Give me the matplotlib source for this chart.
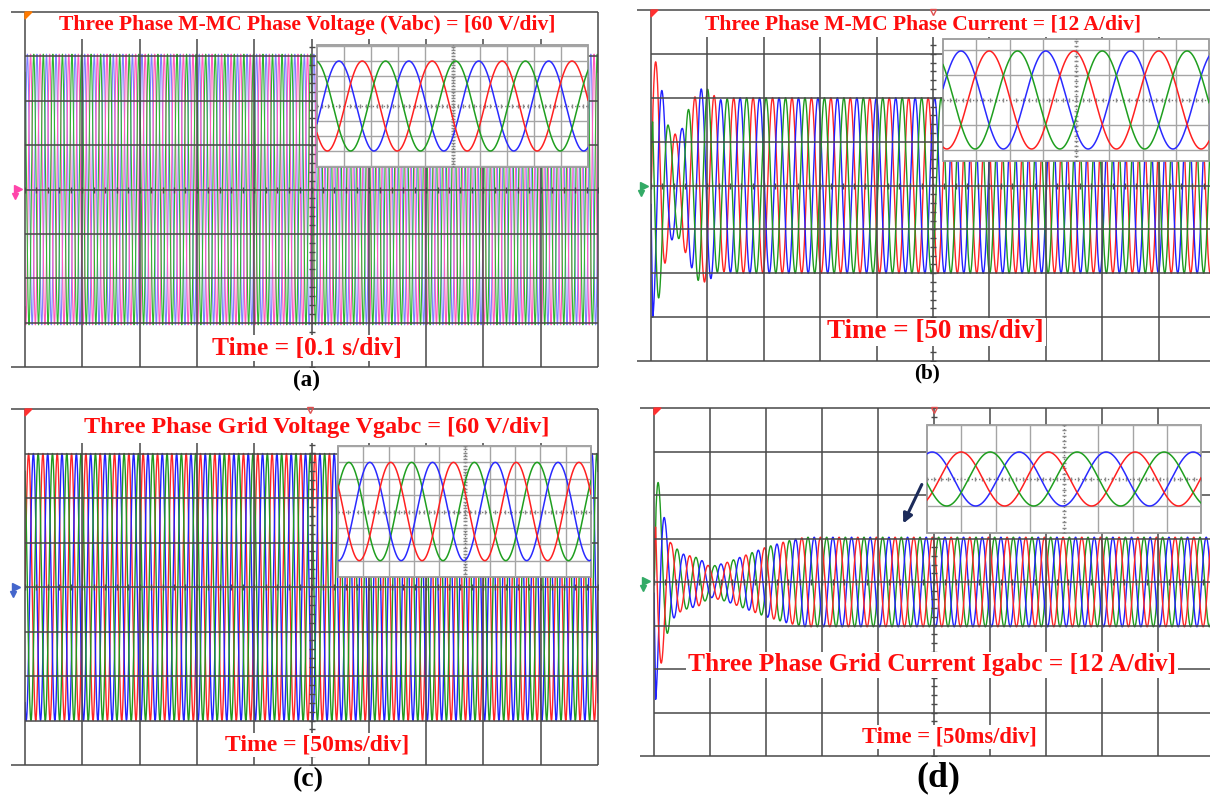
import numpy as np
import matplotlib
matplotlib.use("Agg")
import matplotlib.pyplot as plt
from matplotlib.patches import Rectangle, Polygon

W, H = 1210, 796

# ---------------- data ----------------
titles = ["Three Phase M-MC Phase Voltage (Vabc) = [60 V/div]",
          "Three Phase M-MC Phase Current = [12 A/div]",
          "Three Phase Grid Voltage Vgabc = [60 V/div]",
          "Three Phase Grid Current Igabc = [12 A/div]"]
time_labels = ["Time = [0.1 s/div]", "Time = [50 ms/div]",
               "Time = [50ms/div]", "Time = [50ms/div]"]
panel_letters = ["(a)", "(b)", "(c)", "(d)"]

# envelope of main traces: time (div) and amplitude (div)
env_a_t = [0.0, 10.0]
env_a_amp = [3.05, 3.05]
env_b_t = [0.0, 0.03, 0.12, 0.22, 0.32, 0.45, 0.55, 0.65, 0.85, 1.0, 1.2, 1.5, 10.0]
env_b_amp = [0.5, 3.0, 2.7, 2.0, 1.3, 1.15, 1.3, 1.7, 2.2, 2.2, 1.95, 2.0, 2.0]
env_c_t = [0.0, 10.0]
env_c_amp = [3.0, 3.0]
env_d_t = [0.0, 0.03, 0.1, 0.2, 0.3, 0.5, 0.8, 1.0, 1.3, 1.6, 2.0, 2.4, 2.7, 10.0]
env_d_amp = [0.3, 2.7, 2.1, 1.4, 0.9, 0.65, 0.55, 0.35, 0.45, 0.6, 0.8, 0.95, 1.03, 1.03]
cycles_per_div = [6.0, 2.9, 4.0, 3.0]

main_colors_a = ["#8080ff", "#ff5cbc", "#2fb52f"]
main_colors_rgb = ["#2020ff", "#ff2525", "#1f9a1f"]

# zoomed insets: amplitude (div), period (div), first peak (div), colour order
inset_amp = [3.0, 1.96, 3.0, 1.0]
inset_period = [2.58, 2.55, 2.48, 2.54]
inset_first_peak = [0.81, 0.54, 0.43, 0.15]
inset_colors = [["#2a2aff", "#ff2020", "#1f9f1f"],
                ["#2a2aff", "#ff2020", "#1f9f1f"],
                ["#1f9f1f", "#2a2aff", "#ff2020"],
                ["#2a2aff", "#ff2020", "#1f9f1f"]]

# ---------------- figure ----------------
fig = plt.figure(figsize=(W / 100, H / 100), dpi=100)
GRID = "#4a4a4a"


def px_axes(L, T, R, B, xlim, ylim):
    ax = fig.add_axes([L / W, 1 - B / H, (R - L) / W, (B - T) / H])
    ax.set_xlim(*xlim)
    ax.set_ylim(*ylim)
    ax.axis("off")
    return ax


def draw_panel(box, band_px, env_t, env_amp, cyc, colors, lw):
    L, T, R, B = box
    ax = px_axes(L, T, R, B, (0, 10), (-4, 4))
    pxx = (R - L) / 10.0
    pxy = (B - T) / 8.0
    t = np.linspace(0, 10, 40000)
    env = np.interp(t, env_t, env_amp)
    for k, c in enumerate(colors):
        y = env * np.sin(2 * np.pi * cyc * t - 2 * np.pi * k / 3.0)
        ax.plot(t, y, color=c, lw=lw, zorder=2)
    ext = 14.0 / pxx
    for j in range(9):
        yv = -4 + j
        x0 = -ext if j in (0, 8) else 0
        ax.plot([x0, 10], [yv, yv], color=GRID, lw=1.4, alpha=0.8, zorder=3,
                clip_on=False, solid_capstyle="butt")
    ytop = 4 - (band_px - T) / pxy if band_px else 4
    for i in range(11):
        top = 4 if i in (0, 10) else ytop
        ax.plot([i, i], [-4, top], color=GRID, lw=1.4, alpha=0.8, zorder=3,
                clip_on=False, solid_capstyle="butt")
    tk = np.arange(-4, ytop + 0.001, 0.2)
    ax.plot(np.full_like(tk, 5.0), tk, ls="none", marker="_", ms=5, mew=1,
            color=GRID, zorder=3)
    tkx = np.arange(0, 10.001, 0.2)
    ax.plot(tkx, np.zeros_like(tkx), ls="none", marker="|", ms=5, mew=1,
            color=GRID, zorder=3)
    return ax


def draw_inset(box, nx, yh, ny_lines, amp, period, peak, colors):
    L, T, R, B = box
    ax = px_axes(L, T, R, B, (0, nx), (-yh, yh))
    ax.add_patch(Rectangle((0, -yh), nx, 2 * yh, fc="white", ec="#9a9a9a",
                           lw=1.3, zorder=0, clip_on=False))
    for i in range(1, nx):
        if i == nx // 2:
            continue
        ax.plot([i, i], [-yh, yh], color="#a5a5a5", lw=1.0, zorder=1)
    for j in range(-ny_lines, ny_lines + 1):
        if j == 0:
            continue
        ax.plot([0, nx], [j, j], color="#a5a5a5", lw=1.0, zorder=1)
    ax.plot([nx / 2, nx / 2], [-yh, yh], color="#777777", lw=1.0, ls=":", zorder=1)
    ax.plot([0, nx], [0, 0], color="#777777", lw=1.0, ls=":", zorder=1)
    tk = np.arange(-yh, yh + 0.001, 0.2)
    ax.plot(np.full_like(tk, nx / 2), tk, ls="none", marker="_", ms=3,
            color="#888888", zorder=1)
    tkx = np.arange(0, nx + 0.001, 0.2)
    ax.plot(tkx, np.zeros_like(tkx), ls="none", marker="|", ms=3,
            color="#888888", zorder=1)
    x = np.linspace(0, nx, 3000)
    for k, c in enumerate(colors):
        y = amp * np.cos(2 * np.pi * (x - peak - k * period / 3.0) / period)
        ax.plot(x, y, color=c, lw=1.1, zorder=2)
    return ax


# panels (pixel boxes: L, T, R, B)
draw_panel((25, 12, 598, 367), 39, env_a_t, env_a_amp, cycles_per_div[0],
           main_colors_a, 0.8)
draw_inset((317, 45, 588, 167), 10, 4.07, 4, inset_amp[0], inset_period[0],
           inset_first_peak[0], inset_colors[0])

draw_panel((651, 10, 1215, 361), 37, env_b_t, env_b_amp, cycles_per_div[1],
           [main_colors_rgb[1], main_colors_rgb[0], main_colors_rgb[2]], 1.0)
draw_inset((943, 39, 1209, 161), 8, 2.44, 2, inset_amp[1], inset_period[1],
           inset_first_peak[1], inset_colors[1])

draw_panel((25, 409, 598, 765), 443, env_c_t, env_c_amp, cycles_per_div[2],
           [main_colors_rgb[1], main_colors_rgb[0], main_colors_rgb[2]], 1.0)
draw_inset((338, 446, 591, 577), 10, 4.0, 4, inset_amp[2], inset_period[2],
           inset_first_peak[2], inset_colors[2])

draw_panel((654, 408, 1214, 756), None, env_d_t, env_d_amp, cycles_per_div[3],
           [main_colors_rgb[2], main_colors_rgb[0], main_colors_rgb[1]], 1.0)
draw_inset((927, 425, 1201, 533), 8, 2.0, 2, inset_amp[3], inset_period[3],
           inset_first_peak[3], inset_colors[3])

# overlay in pixel coordinates
ov = fig.add_axes([0, 0, 1, 1])
ov.set_xlim(0, W)
ov.set_ylim(H, 0)
ov.axis("off")
ov.set_zorder(10)
ov.patch.set_visible(False)

renderer = fig.canvas.get_renderer()


def fit_text(x, y, s, width, color, box=False):
    kw = {}
    if box:
        kw["bbox"] = dict(facecolor="white", edgecolor="none", pad=1.5)
    t = ov.text(x, y, s, ha="center", va="center", fontsize=20, color=color,
                family="Liberation Serif", weight="bold", **kw)
    w = t.get_window_extent(renderer).width
    t.set_fontsize(20 * width / w)
    return t


RED = "#ff0d0d"
title_pos = [(307, 25, 498), (923.5, 25, 437), (317, 427, 464), (932, 665, 488)]
time_pos = [(307, 348, 190), (935.5, 332, 217), (317, 745, 184), (949.5, 737, 175)]
letter_pos = [(307, 380, 27), (927, 373, 26), (308, 780, 31), (938, 778, 44)]
for i in range(4):
    x, y, w = title_pos[i]
    fit_text(x, y, titles[i], w, RED, box=(i == 3))
    x, y, w = time_pos[i]
    fit_text(x, y, time_labels[i], w, RED, box=True)
    x, y, w = letter_pos[i]
    fit_text(x, y, panel_letters[i], w, "black")

# arrow in (d)
ov.annotate("", xy=(902, 526), xytext=(923, 482),
            arrowprops=dict(arrowstyle="-|>", color="#1c2b5a", lw=2.2,
                            mutation_scale=14))

# trigger / channel markers
for (L, T), c in zip([(25, 12), (651, 10), (25, 409), (654, 408)],
                     ["#ff7a00", "#ff3030", "#ff3030", "#ff3030"]):
    ov.add_patch(Polygon([(L, T), (L + 7, T), (L, T + 7)], closed=True, color=c))
for (x, y) in [(933, 12), (310, 410), (934, 410)]:
    ov.plot(x, y, marker="v", ms=5, mfc="none", mec="#e05050", mew=1)
for (x, y), c in zip([(18, 189), (644, 186), (16, 587), (646, 581)],
                     ["#ff44aa", "#33aa66", "#4466cc", "#33aa66"]):
    ov.plot(x, y, marker=">", ms=6, color=c)
    ov.plot(x - 3, y + 7, marker="v", ms=4, color=c)

fig.savefig("out.png", dpi=100)
